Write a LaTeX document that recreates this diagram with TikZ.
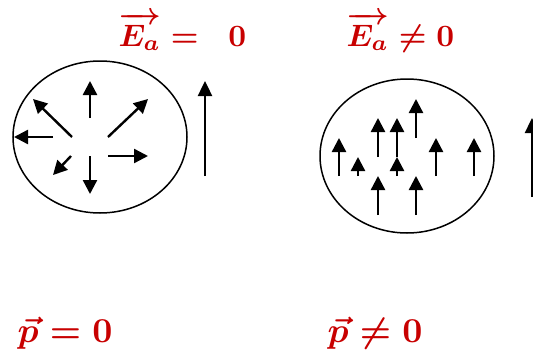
\documentclass[tikz,border=0pt]{standalone}
\usepackage{amsmath}
\usetikzlibrary{arrows.meta}

\definecolor{labelred}{RGB}{200,0,0}

\begin{document}
\begin{tikzpicture}[
    x=1pt, y=-1pt,
    field arrow/.style={line width=2.4pt, -{Triangle[length=14pt, width=14pt]}},
    big arrow/.style={line width=2.4pt, -{Triangle[length=15pt, width=14pt]}},
    medium/.style={line width=1.5pt},
    field label/.style={anchor=base west, inner sep=0pt, text=labelred, scale=3.1, font=\boldmath},
    moment label/.style={anchor=base west, inner sep=0pt, text=labelred, scale=3.5, font=\boldmath}
]
    \clip (0,0) rectangle (533,351);

    % Labels
    \node[field label] (lblEzero) at (118,46) {$\overrightarrow{E_a} = \;\; 0$};
    \node[field label] (lblEnonzero) at (346,46) {$\overrightarrow{E_a} \neq 0$};
    \node[moment label] (lblPzero) at (17,342) {$\vec{p} = 0$};
    \node[moment label] (lblPnonzero) at (327,342) {$\vec{p} \neq 0$};

    % Left: no field, random dipoles
    \draw[medium] (100,137) ellipse [x radius=87pt, y radius=76pt];
    \foreach \xa/\ya/\xb/\yb in {90/118/90/81, 72/137/33/99, 108/137/148/99,
                                 53/137/14/137, 71/156/53/175, 90/156/90/194,
                                 108/156/148/156}
        \draw[field arrow] (\xa,\ya) -- (\xb,\yb);
    \draw[big arrow] (205,176) -- (205,81);

    % Right: field applied, aligned dipoles
    \draw[medium] (407,156) ellipse [x radius=87pt, y radius=77pt];
    \foreach \xa/\ya/\yb in {339/176/138, 358/176/157, 378/157/118, 397/176/157,
                             397/157/118, 416/138/99, 436/176/138, 474/176/138,
                             378/215/176, 416/215/176}
        \draw[field arrow] (\xa,\ya) -- (\xa,\yb);
    \draw[big arrow] (532,197) -- (532,118);

\end{tikzpicture}
\end{document}
